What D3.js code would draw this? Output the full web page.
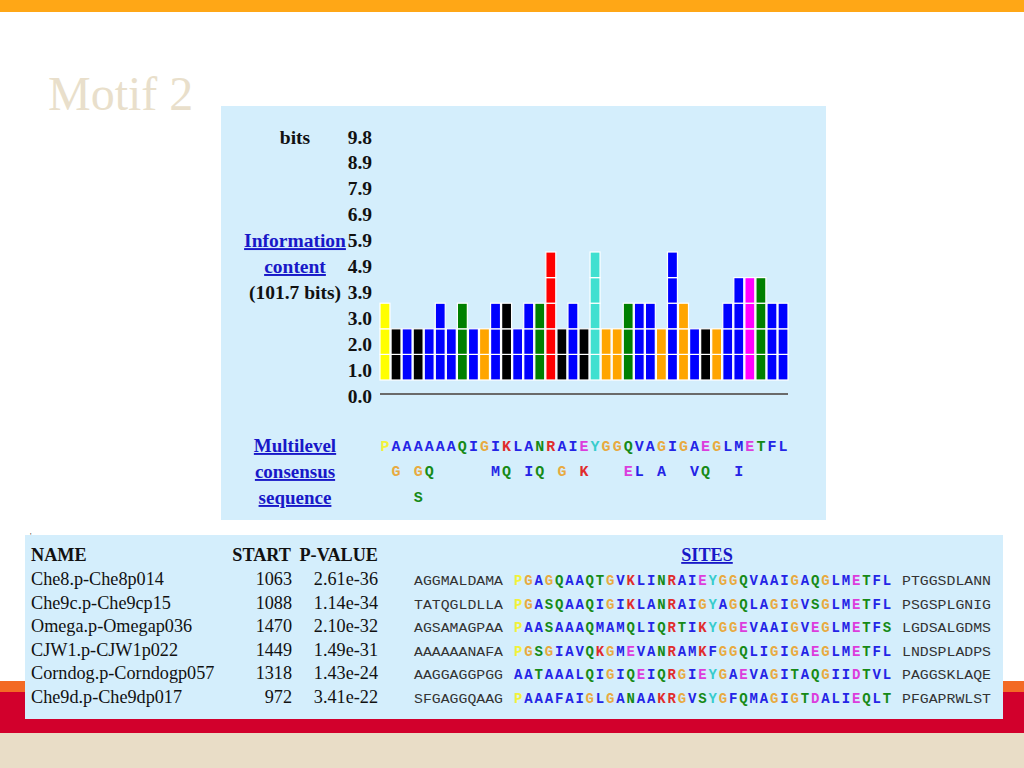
<!DOCTYPE html>
<html>
<head>
<meta charset="utf-8">
<script src="https://cdn.jsdelivr.net/npm/d3@7"></script>
<style>
  body { margin: 0; background: #fff; }
  svg { display: block; }
</style>
</head>
<body>
<div id="slide"></div>
<script>
// motif logo columns (bar height in blocks, bar colour)
const barHeights = [3,2,2,2,2,3,2,3,2,2,3,3,2,3,3,5,2,3,2,5,2,2,3,3,3,2,5,3,2,2,2,3,4,4,4,3,3];
const barColors = ["yellow","black","blue","black","blue","blue","blue","green","blue","orange",
  "blue","black","blue","blue","green","red","black","blue","black","turquoise",
  "orange","orange","green","blue","blue","orange","blue","orange","blue","black",
  "orange","blue","blue","magenta","green","blue","blue"];
const tickLabels = ["0.0","1.0","2.0","3.0","3.9","4.9","5.9","6.9","7.9","8.9","9.8"];

// multilevel consensus (one string per level, space = empty)
const consensusRows = [
  "PAAAAAAQIGIKLANRAIEYGGQVAGIGAEGLMETFL",
  " G GQ     MQ IQ G K   EL A  VQ  I    ",
  "   S                                 "
];

// sites table
const siteNames = ["Che8.p-Che8p014","Che9c.p-Che9cp15","Omega.p-Omegap036","CJW1.p-CJW1p022","Corndog.p-Corndogp057","Che9d.p-Che9dp017"];
const siteStarts = ["1063","1088","1470","1449","1318","972"];
const sitePValues = ["2.61e-36","1.14e-34","2.10e-32","1.49e-31","1.43e-24","3.41e-22"];
const leftFlanks = ["AGGMALDAMA","TATQGLDLLA","AGSAMAGPAA","AAAAAANAFA","AAGGAGGPGG","SFGAGGQAAG"];
const siteSeqs = [
  "PGAGQAAQTGVKLINRAIEYGGQVAAIGAQGLMETFL",
  "PGASQAAQIGIKLANRAIGYAGQLAGIGVSGLMETFL",
  "PAASAAAQMAMQLIQRTIKYGGEVAAIGVEGLMETFS",
  "PGSGIAVQKGMEVANRAMKFGGQLIGIGAEGLMETFL",
  "AATAAALQIGIQEIQRGIEYGAEVAGITAQGIIDTVL",
  "PAAAFAIGLGANAAKRGVSYGFQMAGIGTDALIEQLT"
];
const rightFlanks = ["PTGGSDLANN","PSGSPLGNIG","LGDSALGDMS","LNDSPLADPS","PAGGSKLAQE","PFGAPRWLST"];

const fillOf = {yellow:"#ffff00", black:"#000000", blue:"#0000ff", green:"#008000",
  orange:"#ffa500", red:"#ff0000", turquoise:"#40e0d0", magenta:"#ff00ff"};

// residue colouring
function residueColor(c) {
  if ("ACFILVWM".includes(c)) return "#2424e6";
  if ("NQST".includes(c)) return "#168a16";
  if ("DE".includes(c)) return "#dc3cdc";
  if ("KR".includes(c)) return "#e02c2c";
  if (c == "G") return "#e8aa40";
  if (c == "P") return "#f2f23a";
  if (c == "Y") return "#38cccc";
  if (c == "H") return "#ffb0b0";
  return "#333";
}

const W = 1024, H = 768;
const serif = "'Liberation Serif', 'Times New Roman', serif";
const mono = "'Liberation Mono', 'Courier New', monospace";
const linkBlue = "#1818c8";

const svg = d3.select("#slide").append("svg")
  .attr("width", W)
  .attr("height", H);

// slide decoration
svg.append("rect").attr("x", 0).attr("y", 0).attr("width", W).attr("height", 12).attr("fill", "#ffa716");
svg.append("rect").attr("x", 0).attr("y", 681).attr("width", W).attr("height", 12).attr("fill", "#f36a24");
svg.append("rect").attr("x", 0).attr("y", 692).attr("width", W).attr("height", 41).attr("fill", "#d2002c");
svg.append("rect").attr("x", 0).attr("y", 733).attr("width", W).attr("height", 35).attr("fill", "#e9ddc7");

svg.append("text")
  .attr("x", 48)
  .attr("y", 110)
  .style("font-family", serif)
  .style("font-size", "48px")
  .attr("fill", "#e9dfcb")
  .text("Motif 2");

// ---------- logo panel ----------
svg.append("rect").attr("x", 221).attr("y", 106).attr("width", 605).attr("height", 414).attr("fill", "#d4eefc");

const x = d3.scaleBand()
  .domain(d3.range(barHeights.length))
  .range([380, 788])
  .paddingInner(0.1);

const y = d3.scaleLinear().domain([0, 10]).range([380, 124]);
const yLab = d3.scaleLinear().domain([0, 10]).range([402.5, 143.5]);

const blocks = [];
barHeights.forEach((h, i) => {
  for (let k = 0; k < h; k++) blocks.push({col: i, level: k, color: barColors[i]});
});

svg.append("g").selectAll("rect")
  .data(blocks)
  .join("rect")
  .attr("x", d => x(d.col))
  .attr("y", d => y(d.level + 1))
  .attr("width", x.bandwidth())
  .attr("height", d => y(d.level) - y(d.level + 1))
  .attr("fill", d => fillOf[d.color])
  .attr("stroke", "#ffffff")
  .attr("stroke-width", 1.2);

svg.append("line")
  .attr("x1", 380).attr("x2", 788)
  .attr("y1", 394).attr("y2", 394)
  .attr("stroke", "#6a6a6a")
  .attr("stroke-width", 2);

svg.append("g").selectAll("text")
  .data(tickLabels)
  .join("text")
  .attr("x", 372)
  .attr("y", (d, i) => yLab(i))
  .attr("text-anchor", "end")
  .style("font-family", serif)
  .style("font-size", "19.5px")
  .style("font-weight", "bold")
  .attr("fill", "#111")
  .text(d => d);

// left hand labels
const sideLabels = [
  {t: "bits", lv: 10, link: false},
  {t: "Information", lv: 6, link: true},
  {t: "content", lv: 5, link: true},
  {t: "(101.7 bits)", lv: 4, link: false}
];
svg.append("g").selectAll("text")
  .data(sideLabels)
  .join("text")
  .attr("x", 295)
  .attr("y", d => yLab(d.lv))
  .attr("text-anchor", "middle")
  .style("font-family", serif)
  .style("font-size", "19.5px")
  .style("font-weight", "bold")
  .style("text-decoration", d => d.link ? "underline" : null)
  .attr("fill", d => d.link ? linkBlue : "#111")
  .text(d => d.t);

svg.append("g").selectAll("text")
  .data(["Multilevel", "consensus", "sequence"])
  .join("text")
  .attr("x", 295)
  .attr("y", (d, i) => 452 + i * 26)
  .attr("text-anchor", "middle")
  .style("font-family", serif)
  .style("font-size", "19px")
  .style("font-weight", "bold")
  .style("text-decoration", "underline")
  .attr("fill", linkBlue)
  .text(d => d);

// consensus letters under each column
const consLetters = [];
consensusRows.forEach((row, r) => {
  row.split("").forEach((c, i) => { if (c != " ") consLetters.push({c: c, col: i, row: r}); });
});
svg.append("g").selectAll("text")
  .data(consLetters)
  .join("text")
  .attr("x", d => x(d.col) + x.bandwidth() / 2)
  .attr("y", d => 450.5 + d.row * 25.6)
  .attr("text-anchor", "middle")
  .style("font-family", mono)
  .style("font-size", "15px")
  .style("font-weight", "bold")
  .attr("fill", d => residueColor(d.c))
  .text(d => d.c);

// ---------- sites table ----------
svg.append("rect").attr("x", 25).attr("y", 535).attr("width", 978).attr("height", 184).attr("fill", "#d4eefc");
svg.append("text").attr("x", 30).attr("y", 539).style("font-size", "8px").attr("fill", "#333").text("'");

const rowY = d3.scaleLinear().domain([0, 5]).range([585, 703]);

const head = svg.append("g")
  .style("font-family", serif)
  .style("font-size", "18.2px")
  .style("font-weight", "bold")
  .attr("fill", "#111");
head.append("text").attr("x", 31).attr("y", 561).text("NAME");
head.append("text").attr("x", 291).attr("y", 561).attr("text-anchor", "end").text("START");
head.append("text").attr("x", 378).attr("y", 561).attr("text-anchor", "end").text("P-VALUE");
head.append("text").attr("x", 707).attr("y", 561).attr("text-anchor", "middle")
  .attr("fill", linkBlue).style("text-decoration", "underline").text("SITES");

const rows = svg.append("g").selectAll("g")
  .data(siteNames.map((n, i) => ({name: n, start: siteStarts[i], p: sitePValues[i],
    left: leftFlanks[i], seq: siteSeqs[i], right: rightFlanks[i], i: i})))
  .join("g")
  .attr("transform", d => `translate(0,${rowY(d.i)})`);

const cellStyle = sel => sel.style("font-family", serif).style("font-size", "18.2px").attr("fill", "#111");
rows.append("text").attr("x", 31).call(cellStyle).text(d => d.name);
rows.append("text").attr("x", 292).attr("text-anchor", "end").call(cellStyle).text(d => d.start);
rows.append("text").attr("x", 378).attr("text-anchor", "end").call(cellStyle).text(d => d.p);

rows.append("text")
  .attr("x", 414)
  .attr("textLength", 89)
  .attr("lengthAdjust", "spacingAndGlyphs")
  .style("font-family", mono)
  .style("font-size", "13px")
  .attr("fill", "#333")
  .text(d => d.left);
rows.append("text")
  .attr("x", 902)
  .attr("textLength", 89)
  .attr("lengthAdjust", "spacingAndGlyphs")
  .style("font-family", mono)
  .style("font-size", "13px")
  .attr("fill", "#333")
  .text(d => d.right);

const sx = d3.scaleBand().domain(d3.range(37)).range([513, 892]);
rows.selectAll("text.res")
  .data(d => d.seq.split(""))
  .join("text")
  .attr("class", "res")
  .attr("x", (d, i) => sx(i) + sx.bandwidth() / 2)
  .attr("text-anchor", "middle")
  .style("font-family", mono)
  .style("font-size", "14px")
  .style("font-weight", "bold")
  .attr("fill", d => residueColor(d))
  .text(d => d);
</script>
</body>
</html>
